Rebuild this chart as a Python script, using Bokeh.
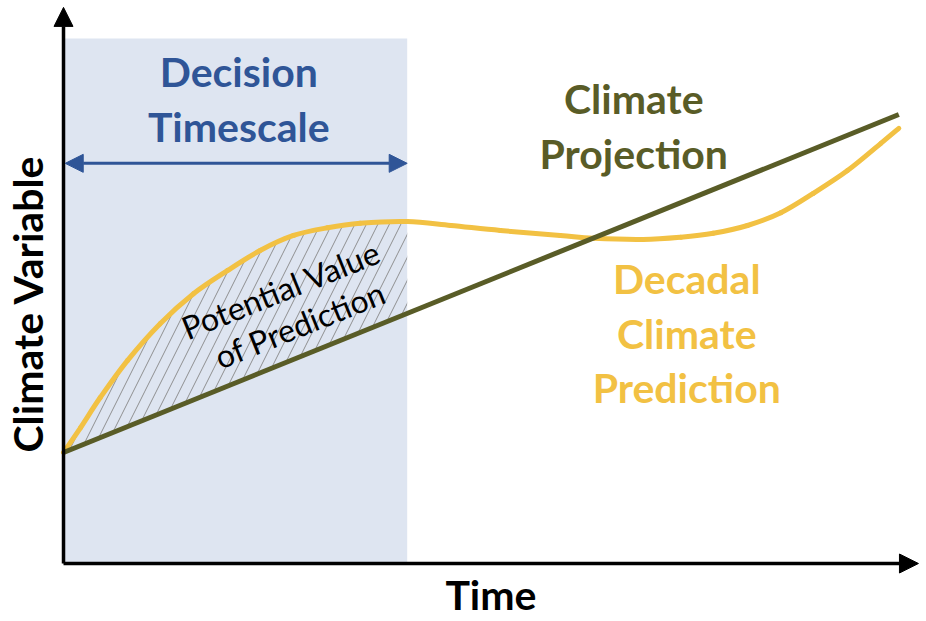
import numpy as np
from bokeh.plotting import figure
from bokeh.models import Range1d, Label, Arrow, NormalHead
from bokeh.embed import file_html
from bokeh.resources import INLINE

# ---- data (conceptual units: time vs. climate variable) ----
prediction_t = [0.00, 0.20, 0.43, 0.75, 1.13, 1.52, 1.92, 2.30, 2.69, 3.09, 3.47,
                4.02, 4.53, 5.11, 5.81, 6.20, 6.78, 7.22, 7.60, 8.00, 8.39, 8.77,
                9.17, 9.56, 9.77]
prediction_v = [2.00, 2.45, 2.99, 3.66, 4.32, 4.86, 5.28, 5.64, 5.91, 6.05, 6.13,
                6.16, 6.09, 6.00, 5.91, 5.86, 5.84, 5.88, 5.95, 6.09, 6.32, 6.67,
                7.08, 7.57, 7.84]
projection_t = [0.00, 9.77]
projection_v = [2.00, 8.09]
decision_t = [0.00, 4.02]        # decision timescale window
decision_top = 9.46
axis_end_t = 10.0
axis_end_v = 10.02
decision_arrow_v = 7.21

BLUE = "#2F5597"
OLIVE = "#595C27"
GOLD = "#F2C143"
SHADE = "#DEE5F1"
FONT = "Lato"

X0, X1 = -0.737, 10.094
Y0, Y1 = -1.045, 10.144
W, H = 926, 621
PX_X = W / (X1 - X0)
PX_Y = H / (Y1 - Y0)

p = figure(width=W, height=H, output_backend="svg", toolbar_location=None,
           x_range=Range1d(X0, X1), y_range=Range1d(Y0, Y1),
           x_axis_location=None, y_axis_location=None,
           min_border=0, min_border_left=0, min_border_right=0,
           min_border_top=0, min_border_bottom=0)
p.grid.visible = False
p.outline_line_color = None
p.background_fill_color = "white"
p.border_fill_color = "white"

# decision timescale shading
p.quad(left=decision_t[0], right=decision_t[1], bottom=0, top=decision_top,
       fill_color=SHADE, line_color=None)

# hatched area between prediction and projection inside decision window
pt = np.array(prediction_t)
pv = np.array(prediction_v)
mask = pt <= decision_t[1] + 1e-9
hx = pt[mask]
hy_pred = pv[mask]
hy_proj = np.interp(hx, projection_t, projection_v)
p.varea(x=hx, y1=hy_proj, y2=hy_pred, fill_alpha=0, fill_color=None,
        hatch_pattern="/", hatch_color="#858585", hatch_weight=0.9,
        hatch_scale=23, hatch_alpha=1.0)

# prediction curve drawn smoothly (Catmull-Rom -> cubic Bezier through the points)
n = len(pt)
x0, y0, x1, y1, cx0, cy0, cx1, cy1 = ([] for _ in range(8))
for i in range(n - 1):
    pm = i - 1 if i > 0 else i
    pp = i + 2 if i + 2 < n else i + 1
    x0.append(pt[i]); y0.append(pv[i]); x1.append(pt[i + 1]); y1.append(pv[i + 1])
    cx0.append(pt[i] + (pt[i + 1] - pt[pm]) / 6.0)
    cy0.append(pv[i] + (pv[i + 1] - pv[pm]) / 6.0)
    cx1.append(pt[i + 1] - (pt[pp] - pt[i]) / 6.0)
    cy1.append(pv[i + 1] - (pv[pp] - pv[i]) / 6.0)
p.bezier(x0=x0, y0=y0, x1=x1, y1=y1, cx0=cx0, cy0=cy0, cx1=cx1, cy1=cy1,
         line_color=GOLD, line_width=5, line_cap="round")

p.line(projection_t, projection_v, line_color=OLIVE, line_width=5)

# axes with arrows
p.add_layout(Arrow(end=NormalHead(size=19, fill_color="black", line_color="black"),
                   x_start=0, y_start=0, x_end=axis_end_t, y_end=0,
                   line_width=3.5, line_color="black"))
p.add_layout(Arrow(end=NormalHead(size=19, fill_color="black", line_color="black"),
                   x_start=0, y_start=0, x_end=0, y_end=axis_end_v,
                   line_width=3.5, line_color="black"))

# decision timescale double arrow
p.add_layout(Arrow(start=NormalHead(size=18, fill_color=BLUE, line_color=BLUE),
                   end=NormalHead(size=18, fill_color=BLUE, line_color=BLUE),
                   x_start=decision_t[0] + 0.02, y_start=decision_arrow_v,
                   x_end=decision_t[1], y_end=decision_arrow_v,
                   line_width=3, line_color=BLUE))

def lab(x, y, text, color, size_px, bold=True, angle=0.0):
    # raise the anchor so that the glyph baseline sits where wanted
    d = 0.41 * size_px
    xx = x - np.sin(angle) * d / PX_X
    yy = y + np.cos(angle) * d / PX_Y
    p.add_layout(Label(x=xx, y=yy, text=text, text_color=color,
                       text_font=FONT, text_font_size=f"{size_px}px",
                       text_font_style="bold" if bold else "normal",
                       text_align="center", text_baseline="alphabetic",
                       angle=angle))

lab(2.05, 8.56, "Decision", BLUE, 41)
lab(2.05, 7.57, "Timescale", BLUE, 41)
lab(6.67, 8.07, "Climate", OLIVE, 41)
lab(6.67, 7.08, "Projection", OLIVE, 41)
lab(7.29, 4.83, "Decadal", GOLD, 41)
lab(7.29, 3.84, "Climate", GOLD, 41)
lab(7.29, 2.86, "Prediction", GOLD, 41)
lab(5.0, -0.87, "Time", "black", 41)
lab(-0.23, 4.68, "Climate Variable", "black", 41, angle=np.pi / 2)

ang = np.deg2rad(22)
lab(2.60, 4.72, "Potential Value", "black", 32, bold=False, angle=ang)
lab(2.82, 4.09, "of Prediction", "black", 32, bold=False, angle=ang)

open("out.html", "w").write(file_html(p, INLINE))
